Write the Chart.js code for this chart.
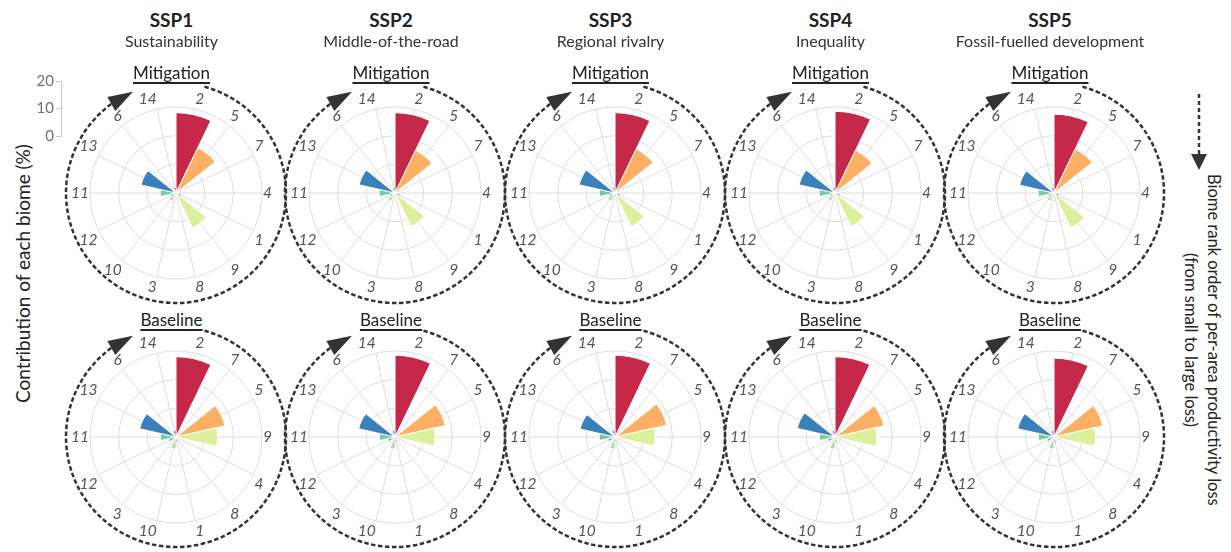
<!DOCTYPE html>
<html>
<head>
<meta charset="utf-8">
<script src="https://cdn.jsdelivr.net/npm/chart.js@4.4.1/dist/chart.umd.min.js"></script>
<style>
    body { margin: 0; background: #fff; font-family: Lato, "Open Sans", sans-serif; }
    #wrap { position: relative; width: 1231px; height: 552px; overflow: hidden; }
    .polar { position: absolute; }
    .ssp { position: absolute; width: 220px; text-align: center; font-weight: bold; font-size: 19px; color: #222; }
    .sub { position: absolute; width: 220px; text-align: center; font-size: 16px; color: #333; }
    .scen { position: absolute; width: 220px; text-align: center; font-size: 17px; color: #222; }
    .scen span { text-decoration: underline; text-underline-offset: 3px; text-decoration-thickness: 1.5px; }
    #ylab { position: absolute; left: -128px; top: 262px; width: 300px; text-align: center; font-size: 19px; color: #222; transform: rotate(-90deg); }
    #rlab { position: absolute; left: 1179px; top: 152px; height: 376px; writing-mode: vertical-rl; text-align: center; font-size: 16.5px; color: #222; line-height: 23px; }
</style>
</head>
<body>
<div id="wrap">
    <div id="ylab">Contribution of each biome (%)</div>
    <canvas id="axisCanvas" class="polar" width="34" height="77" style="left:31px;top:70px"></canvas>
    <svg class="polar" style="left:1188px;top:90px" width="22" height="85">
        <line x1="11" y1="4" x2="11" y2="66" stroke="#333" stroke-width="2.5" stroke-dasharray="4,3"/>
        <polygon points="3,64 19,64 11,80" fill="#333"/>
    </svg>
    <div id="rlab">Biome rank order of per-area productivity loss<br>(from small to large loss)</div>
</div>

<script>
// ---- data ----
const sspNames = ['SSP1', 'SSP2', 'SSP3', 'SSP4', 'SSP5'];
const sspTitles = ['Sustainability', 'Middle-of-the-road', 'Regional rivalry', 'Inequality', 'Fossil-fuelled development'];

// biome order clockwise from the top
const mitigationOrder = [2, 5, 7, 4, 1, 9, 8, 3, 10, 12, 11, 13, 6, 14];
const baselineOrder = [2, 7, 5, 9, 4, 8, 1, 10, 3, 12, 11, 13, 6, 14];

// contribution of each biome (%) in the order above
const ssp1Mitigation = [28, 17.5, 1, 0.4, 1.8, 13.5, 0.4, 1.4, 3.2, 2, 5.5, 12.5, 1.2, 2];
const ssp2Mitigation = [28, 16.5, 1, 0.4, 1.8, 13, 0.4, 1.4, 3.2, 2, 5.5, 12.8, 1.2, 2];
const ssp3Mitigation = [28, 17, 1, 0.4, 1.8, 13, 0.4, 1.4, 3.2, 2, 5.5, 12.8, 1.2, 2];
const ssp4Mitigation = [28.5, 16.5, 1, 0.4, 1.8, 13, 0.4, 1.4, 3.2, 2, 5.5, 12.8, 1.2, 2];
const ssp5Mitigation = [27.5, 17, 1, 0.4, 1.8, 13.5, 0.4, 1.4, 3.2, 2, 5.5, 12.3, 1.2, 2];

const ssp1Baseline = [28, 0.8, 17.5, 14.5, 0.5, 0.5, 1.8, 4.2, 1.2, 2.5, 5.5, 13, 1.2, 2.2];
const ssp2Baseline = [28.5, 0.8, 18, 14, 0.5, 0.5, 1.8, 4.2, 1.2, 2.5, 5.5, 13, 1.2, 2.2];
const ssp3Baseline = [28.5, 0.8, 18.5, 14, 0.5, 0.5, 1.8, 4.2, 1.2, 2.5, 5.5, 12.5, 1.2, 2.2];
const ssp4Baseline = [28, 0.8, 17.5, 14.5, 0.5, 0.5, 1.8, 4.2, 1.2, 2.5, 5.5, 13.5, 1.2, 2.2];
const ssp5Baseline = [27.5, 0.8, 17.5, 14.5, 0.5, 0.5, 1.8, 4.2, 1.2, 2.5, 5.5, 13, 1.2, 2.2];

const mitigationValues = [ssp1Mitigation, ssp2Mitigation, ssp3Mitigation, ssp4Mitigation, ssp5Mitigation];
const baselineValues = [ssp1Baseline, ssp2Baseline, ssp3Baseline, ssp4Baseline, ssp5Baseline];

// spectral colours, biome 1..14
const biomeColours = ['#9e0142', '#c6284a', '#e95c47', '#f88d52', '#fdb064', '#fed380', '#fee99a',
    '#f3f9ae', '#dcf09b', '#abdda4', '#78c8a3', '#4fa8ae', '#3a80bb', '#5e4fa2'];

const axisTicks = [0, 10, 20];
const radialMax = 30;

// ---- layout ----
const colX = [171.5, 391, 610.5, 830.5, 1050];
const rowY = [193.5, 438];
const rowTitles = ['Mitigation', 'Baseline'];

const FONT = 'Lato, "Open Sans", sans-serif';

// spokes through the middle of each sector + dashed arrow circle
const decorPlugin = {
    id: 'decor',
    beforeDatasetsDraw(chart) {
        const r = chart.scales.r;
        const ctx = chart.ctx;
        const n = chart.data.labels.length;
        ctx.save();
        ctx.strokeStyle = '#dddddd';
        ctx.lineWidth = 1;
        for (let i = 0; i < n; i++) {
            const p = r.getPointPosition(i, r.drawingArea, Math.PI / n);
            ctx.beginPath();
            ctx.moveTo(r.xCenter, r.yCenter);
            ctx.lineTo(p.x, p.y);
            ctx.stroke();
        }
        ctx.restore();
    },
    afterDraw(chart) {
        const r = chart.scales.r;
        const ctx = chart.ctx;
        const cx = r.xCenter, cy = r.yCenter;
        const R = 110;
        const rad = d => (d - 90) * Math.PI / 180;
        ctx.save();
        ctx.strokeStyle = '#333';
        ctx.lineWidth = 2.5;
        ctx.setLineDash([4.5, 2.5]);
        ctx.beginPath();
        ctx.arc(cx, cy, R, rad(15), rad(326), false);
        ctx.stroke();
        // arrow head
        const tipB = 337, baseB = 324;
        const tx = cx + R * Math.cos(rad(tipB)), ty = cy + R * Math.sin(rad(tipB));
        const bx = cx + R * Math.cos(rad(baseB)), by = cy + R * Math.sin(rad(baseB));
        const dx = tx - bx, dy = ty - by, len = Math.hypot(dx, dy);
        const nx = -dy / len * 8, ny = dx / len * 8;
        ctx.setLineDash([]);
        ctx.fillStyle = '#333';
        ctx.beginPath();
        ctx.moveTo(tx, ty);
        ctx.lineTo(bx + nx, by + ny);
        ctx.lineTo(bx - nx, by - ny);
        ctx.closePath();
        ctx.fill();
        ctx.restore();
    }
};

function addText(cls, html, x, y) {
    const d = document.createElement('div');
    d.className = cls;
    d.innerHTML = html;
    d.style.left = (x - 110) + 'px';
    d.style.top = y + 'px';
    document.getElementById('wrap').appendChild(d);
}

function makePolar(x, y, order, values) {
    const c = document.createElement('canvas');
    c.className = 'polar';
    c.width = 240;
    c.height = 240;
    c.style.left = (x - 120) + 'px';
    c.style.top = (y - 120) + 'px';
    document.getElementById('wrap').appendChild(c);

    new Chart(c.getContext('2d'), {
        type: 'polarArea',
        data: {
            labels: order.map(String),
            datasets: [{
                data: values,
                backgroundColor: order.map(b => biomeColours[b - 1]),
                borderColor: '#fff',
                borderWidth: 1
            }]
        },
        options: {
            responsive: false,
            animation: false,
            layout: {padding: 15},
            plugins: {legend: {display: false}, tooltip: {enabled: false}},
            scales: {
                r: {
                    min: 0,
                    max: radialMax,
                    startAngle: 0,
                    ticks: {display: false, stepSize: 10},
                    grid: {circular: true, color: '#dddddd'},
                    angleLines: {display: false},
                    pointLabels: {
                        display: true,
                        centerPointLabels: true,
                        padding: 1,
                        color: '#555555',
                        font: {family: FONT, size: 15.5, style: 'italic'}
                    }
                }
            }
        },
        plugins: [decorPlugin]
    });
}

sspNames.forEach((name, i) => {
    addText('ssp', name, colX[i], 8);
    addText('sub', sspTitles[i], colX[i], 31);
    addText('scen', '<span>' + rowTitles[0] + '</span>', colX[i], 62);
    addText('scen', '<span>' + rowTitles[1] + '</span>', colX[i], 309);
    makePolar(colX[i], rowY[0], mitigationOrder, mitigationValues[i]);
    makePolar(colX[i], rowY[1], baselineOrder, baselineValues[i]);
});

// small radial scale key on the left
new Chart(document.getElementById('axisCanvas').getContext('2d'), {
    type: 'bar',
    data: {labels: [''], datasets: [{data: []}]},
    options: {
        responsive: false,
        animation: false,
        layout: {padding: {top: 10, bottom: 10, left: 0, right: 0}},
        plugins: {legend: {display: false}, tooltip: {enabled: false}},
        scales: {
            x: {display: false},
            y: {
                min: axisTicks[0],
                max: axisTicks[axisTicks.length - 1],
                afterBuildTicks: s => { s.ticks = axisTicks.map(v => ({value: v})); },
                afterFit: s => { s.width = 30; },
                grid: {drawOnChartArea: false, color: '#c8c8c8', tickLength: 5},
                border: {color: '#c8c8c8'},
                ticks: {color: '#6e6e6e', padding: 2, font: {family: FONT, size: 15}}
            }
        }
    }
});
</script>
</body>
</html>
